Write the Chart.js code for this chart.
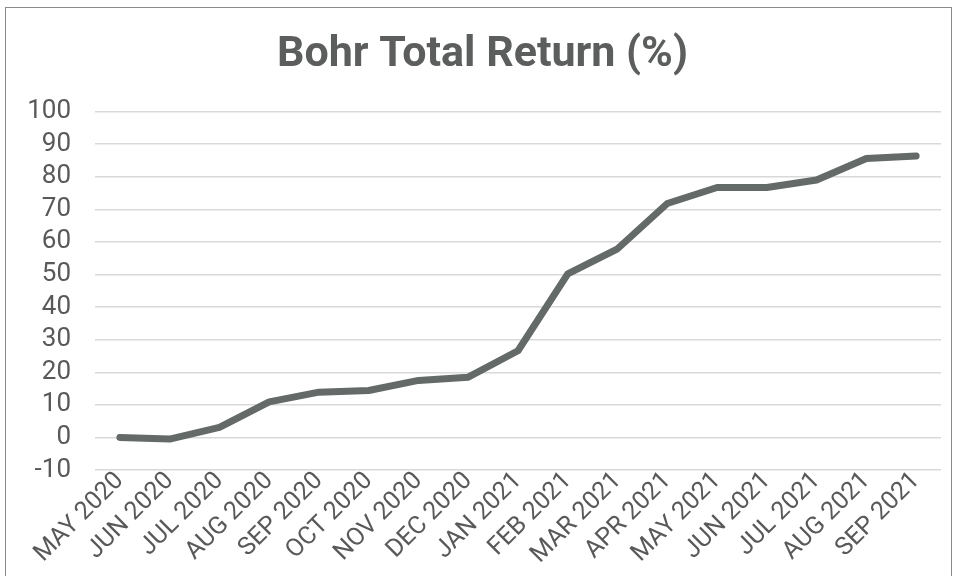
<!DOCTYPE html>
<html>
<head>
<meta charset="utf-8">
<script src="https://cdn.jsdelivr.net/npm/chart.js@4/dist/chart.umd.min.js"></script>
<style>
  html, body { margin: 0; padding: 0; background: #fff; }
  #wrap { position: relative; width: 958px; height: 576px; overflow: hidden; }
  #frame { position: absolute; left: 5px; top: 7px; width: 947px; height: 600px; border: 1px solid #8a8a8a; box-sizing: border-box; pointer-events: none; }
  canvas { position: absolute; left: 0; top: 0; }
</style>
</head>
<body>
<div id="wrap">
  <canvas id="c" width="958" height="576"></canvas>
  <div id="frame"></div>
</div>
<script>
const categories = ["MAY 2020","JUN 2020","JUL 2020","AUG 2020","SEP 2020","OCT 2020","NOV 2020","DEC 2020","JAN 2021","FEB 2021","MAR 2021","APR 2021","MAY 2021","JUN 2021","JUL 2021","AUG 2021","SEP 2021"];
const totalReturn = [0, -0.5, 3.1, 10.9, 13.9, 14.4, 17.5, 18.5, 26.6, 50.2, 57.9, 71.8, 76.7, 76.7, 79.0, 85.6, 86.4];
const titleText = "Bohr Total Return (%)";
const yMin = -10, yMax = 100, yStep = 10;

const textColor = '#595959';

new Chart(document.getElementById('c'), {
  type: 'line',
  data: {
    labels: categories,
    datasets: [{
      data: totalReturn,
      borderColor: '#646a67',
      borderWidth: 7,
      pointRadius: 0,
      tension: 0,
      borderJoinStyle: 'round',
      borderCapStyle: 'round',
      fill: false
    }]
  },
  options: {
    responsive: false,
    animation: false,
    devicePixelRatio: 1,
    layout: { padding: { left: 24, right: 17, top: 0, bottom: 0 } },
    plugins: {
      legend: { display: false },
      tooltip: { enabled: false },
      title: {
        display: true,
        text: titleText,
        color: '#5b5e5d',
        font: { family: 'Roboto', size: 43, weight: 'bold', lineHeight: 1.2 },
        padding: { top: 29, bottom: 31 }
      }
    },
    scales: {
      x: {
        offset: true,
        grid: { display: false, drawTicks: false },
        border: { display: false },
        ticks: {
          color: textColor,
          font: { family: 'Roboto', size: 25, lineHeight: 1 },
          maxRotation: 45,
          minRotation: 45,
          autoSkip: false,
          padding: -2
        },
        afterFit: (s) => { s.height = 106; }
      },
      y: {
        min: yMin,
        max: yMax,
        grid: { color: '#d9d9d9', lineWidth: 1.5, drawTicks: false },
        border: { display: false },
        ticks: {
          stepSize: yStep,
          autoSkip: false,
          color: textColor,
          font: { family: 'Roboto', size: 26, lineHeight: 1 },
          padding: 24
        },
        afterFit: (s) => { s.width = 71; }
      }
    }
  }
});
</script>
</body>
</html>
